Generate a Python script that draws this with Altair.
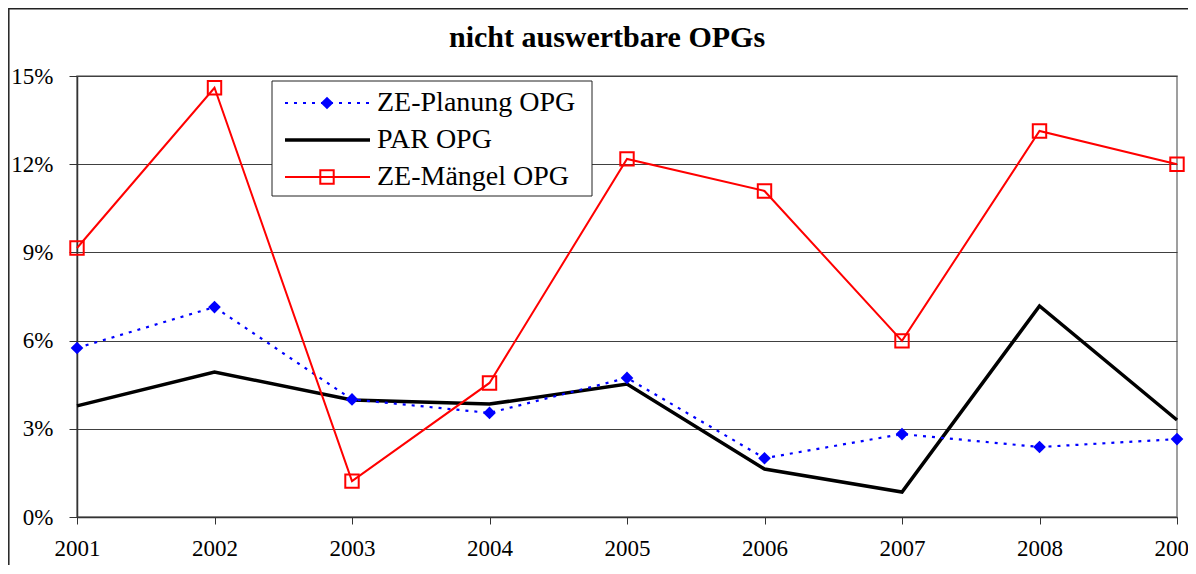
import altair as alt
import pandas as pd

years = ["2001", "2002", "2003", "2004", "2005", "2006", "2007", "2008", "2009"]
planung = [5.75, 7.14, 4.00, 3.54, 4.73, 2.00, 2.82, 2.38, 2.65]
par = [3.78, 4.93, 3.98, 3.84, 4.52, 1.63, 0.85, 7.18, 3.30]
maengel = [9.15, 14.60, 1.22, 4.56, 12.18, 11.09, 5.99, 13.13, 12.00]
series_names = ["ZE-Planung OPG", "PAR OPG", "ZE-Mängel OPG"]
y_ticks = [0, 0.03, 0.06, 0.09, 0.12, 0.15]
title_text = "nicht auswertbare OPGs"

FONT = "Liberation Serif, Times New Roman, DejaVu Serif, serif"

rows = []
for name, vals in zip(series_names, [planung, par, maengel]):
    for yr, v in zip(years, vals):
        rows.append({"year": yr, "value": v / 100.0, "series": name})
df = pd.DataFrame(rows)
one = pd.DataFrame({"a": [0]})

x_enc = alt.X(
    "year:O",
    scale=alt.Scale(type="point", padding=0),
    axis=alt.Axis(
        title=None, labelAngle=0, labelFont=FONT, labelFontSize=23, labelColor="black",
        domainColor="#333333", domainWidth=1.5, tickColor="#333333", tickSize=7,
        labelPadding=13, grid=False,
    ),
)
y_enc = alt.Y(
    "value:Q",
    scale=alt.Scale(domain=[0, 0.15], nice=False, zero=True),
    axis=alt.Axis(
        title=None, values=y_ticks, format=".0%", labelFont=FONT, labelFontSize=23,
        labelColor="black", domainColor="#333333", domainWidth=1.5, tickColor="#333333",
        tickSize=8, labelPadding=16, grid=True, gridColor="#404040", gridWidth=1,
    ),
)

base = alt.Chart(df).encode(x=x_enc, y=y_enc)

border = alt.Chart(one).mark_rect(fill="transparent", stroke="#222222", strokeWidth=1.5).encode(
    x=alt.value(-68.2), x2=alt.value(1250), y=alt.value(-67.2), y2=alt.value(600)
)

line_par = base.transform_filter(alt.datum.series == "PAR OPG").mark_line(
    color="black", strokeWidth=3.5
)
line_plan = base.transform_filter(alt.datum.series == "ZE-Planung OPG").mark_line(
    color="#0000ff", strokeWidth=2.2, strokeDash=[3, 6]
)
pts_plan = base.transform_filter(alt.datum.series == "ZE-Planung OPG").mark_point(
    shape="diamond", filled=True, color="#0000ff", size=160, opacity=1
)
line_mae = base.transform_filter(alt.datum.series == "ZE-Mängel OPG").mark_line(
    color="#ff0000", strokeWidth=2
)
pts_mae = base.transform_filter(alt.datum.series == "ZE-Mängel OPG").mark_point(
    shape="square", filled=False, color="#ff0000", size=180, strokeWidth=2, opacity=1
)

title = alt.Chart(one).mark_text(
    text=title_text, font=FONT, fontSize=30, fontWeight="bold", color="black",
    align="center", baseline="alphabetic",
).encode(x=alt.value(530), y=alt.value(-29))

# custom legend
leg_box = alt.Chart(one).mark_rect(fill="white", stroke="#222222", strokeWidth=1).encode(
    x=alt.value(195), x2=alt.value(515), y=alt.value(5), y2=alt.value(120)
)
row_y = [27, 64, 101]
leg_l1 = alt.Chart(one).mark_rule(color="#0000ff", strokeWidth=2.2, strokeDash=[3, 6]).encode(
    x=alt.value(208), x2=alt.value(293), y=alt.value(row_y[0])
)
leg_p1 = alt.Chart(one).mark_point(shape="diamond", filled=True, color="#0000ff", size=160, opacity=1).encode(
    x=alt.value(250), y=alt.value(row_y[0])
)
leg_l2 = alt.Chart(one).mark_rule(color="black", strokeWidth=3.5).encode(
    x=alt.value(208), x2=alt.value(293), y=alt.value(row_y[1])
)
leg_l3 = alt.Chart(one).mark_rule(color="#ff0000", strokeWidth=2).encode(
    x=alt.value(208), x2=alt.value(293), y=alt.value(row_y[2])
)
leg_p3 = alt.Chart(one).mark_point(shape="square", filled=False, color="#ff0000", size=180, strokeWidth=2, opacity=1).encode(
    x=alt.value(250), y=alt.value(row_y[2])
)
leg_texts = []
for name, ry in zip(series_names, row_y):
    leg_texts.append(
        alt.Chart(one).mark_text(
            text=name, font=FONT, fontSize=28, color="black", align="left", baseline="middle"
        ).encode(x=alt.value(300), y=alt.value(ry))
    )

chart = alt.layer(
    border, line_par, line_plan, pts_plan, line_mae, pts_mae, title,
    leg_box, leg_l1, leg_p1, leg_l2, leg_l3, leg_p3, *leg_texts,
).properties(
    width=1100, height=441,
    autosize=alt.AutoSizeParams(type="none"),
    padding={"left": 69, "top": 68, "right": 11, "bottom": 48},
).configure_view(stroke="#808080", strokeWidth=1.5)

chart.save("out.html", embed_options={"renderer": "svg", "actions": False})
